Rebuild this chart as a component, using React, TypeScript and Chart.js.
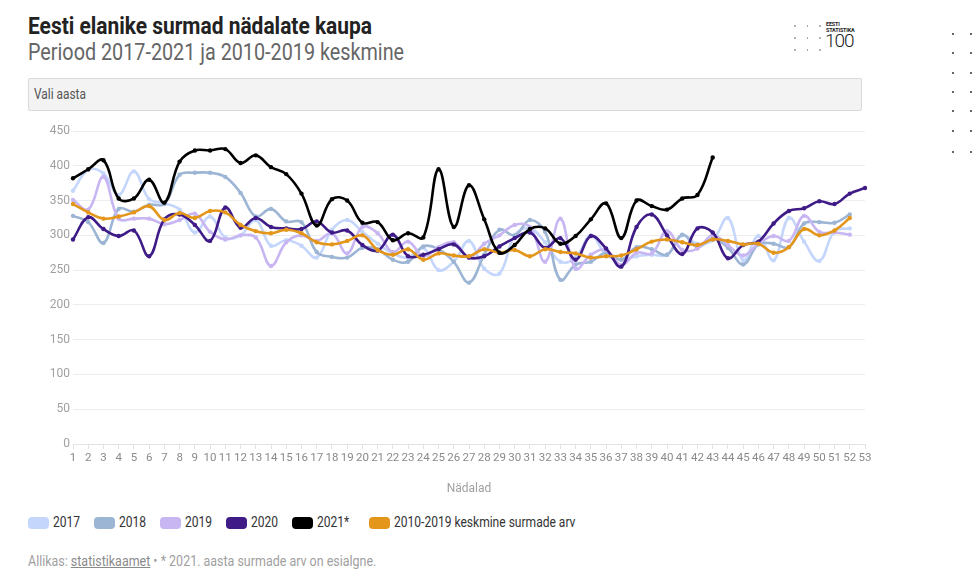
import React, { useEffect, useRef } from "react";
import { Chart, registerables } from "chart.js";

Chart.register(...registerables);

const weeks = [
  "1", "2", "3", "4", "5", "6", "7", "8", "9", "10",
  "11", "12", "13", "14", "15", "16", "17", "18", "19", "20",
  "21", "22", "23", "24", "25", "26", "27", "28", "29", "30",
  "31", "32", "33", "34", "35", "36", "37", "38", "39", "40",
  "41", "42", "43", "44", "45", "46", "47", "48", "49", "50",
  "51", "52", "53",
];

const yTicks = [0, 50, 100, 150, 200, 250, 300, 350, 400, 450];

const y2017 = [
  364, 394, 389, 358, 392, 352, 346, 337, 304, 327,
  297, 300, 322, 285, 293, 285, 268, 308, 322, 305,
  288, 274, 268, 282, 250, 262, 292, 252, 245, 300,
  310, 290, 262, 268, 300, 272, 265, 270, 272, 272,
  300, 288, 293, 325, 264, 299, 264, 325, 291, 263,
  306, 310,
];

const y2018 = [
  328, 319, 289, 338, 334, 344, 345, 387, 390, 390,
  384, 361, 327, 338, 320, 319, 276, 269, 268, 282,
  280, 265, 262, 284, 280, 262, 232, 272, 308, 300,
  322, 305, 236, 258, 262, 275, 265, 283, 280, 272,
  301, 283, 295, 282, 258, 287, 288, 283, 317, 319,
  318, 330,
];

const y2019 = [
  351, 337, 384, 324, 324, 324, 316, 322, 331, 305,
  294, 300, 297, 256, 290, 300, 292, 303, 274, 312,
  303, 276, 291, 270, 283, 290, 268, 288, 300, 315,
  312, 262, 324, 252, 272, 279, 257, 275, 274, 306,
  279, 281, 300, 286, 271, 288, 299, 292, 328, 305,
  304, 301,
];

const y2020 = [
  294, 326, 309, 299, 307, 270, 323, 330, 315, 292,
  340, 311, 325, 312, 310, 309, 320, 304, 307, 286,
  278, 301, 270, 272, 280, 287, 268, 270, 284, 296,
  304, 282, 296, 265, 299, 281, 255, 312, 330, 300,
  273, 310, 304, 267, 286, 291, 317, 335, 339, 349,
  345, 360, 368,
];

const y2021 = [
  382, 395, 408, 353, 353, 380, 347, 406, 422, 422,
  424, 404, 415, 398, 388, 360, 314, 352, 350, 318,
  319, 293, 303, 297, 395, 312, 372, 323, 275, 286,
  309, 310, 288, 299, 323, 346, 296, 350, 342, 337,
  353, 358, 412,
];

const yAvg = [
  345, 333, 324, 327, 333, 342, 322, 332, 325, 335,
  333, 315, 306, 303, 308, 303, 290, 287, 292, 300,
  279, 272, 280, 265, 274, 271, 270, 280, 275, 279,
  270, 280, 276, 274, 268, 270, 271, 280, 291, 294,
  290, 286, 294, 292, 287, 288, 275, 283, 309, 300,
  307, 325,
];

const seriesNames = ["2017", "2018", "2019", "2020", "2021*", "2010-2019 keskmine surmade arv"];
const seriesColors = ["#c4d6fb", "#9db5d4", "#c8b6f3", "#3f1b88", "#000000", "#e4961a"];

const FONT = "Roboto, 'Noto Sans', sans-serif";

function ChartCanvas() {
  const ref = useRef<HTMLCanvasElement | null>(null);
  useEffect(() => {
    if (!ref.current) return;
    const allData = [y2017, y2018, y2019, y2020, y2021, yAvg];
    const orders = [5, 4, 3, 2, 0, 1];
    const datasets = allData.map((d, i) => ({
      label: seriesNames[i],
      data: d,
      borderColor: seriesColors[i],
      backgroundColor: seriesColors[i],
      pointBackgroundColor: seriesColors[i],
      pointBorderColor: seriesColors[i],
      order: orders[i],
      borderWidth: 2.6,
      pointRadius: 2.2,
      pointBorderWidth: 0,
      tension: 0.4,
      fill: false,
    }));
    const chart = new Chart(ref.current, {
      type: "line",
      data: { labels: weeks, datasets },
      options: {
        animation: false,
        responsive: false,
        maintainAspectRatio: false,
        layout: { padding: { left: 0, right: 15, top: 11, bottom: 0 } },
        plugins: { legend: { display: false }, tooltip: { enabled: false } },
        scales: {
          x: {
            ticks: {
              autoSkip: false,
              maxRotation: 0,
              minRotation: 0,
              color: "#8a8a8a",
              padding: 2,
              font: { size: 11.5, family: FONT },
            },
            grid: { drawOnChartArea: false, drawTicks: true, tickLength: 5, color: "#e3e3e3" },
            border: { color: "#e3e3e3" },
            title: { display: true, text: "Nädalad", color: "#a0a0a0", font: { size: 12, family: FONT } },
            afterFit: (s: any) => {
              s.height = 56;
            },
          },
          y: {
            min: yTicks[0],
            max: yTicks[yTicks.length - 1],
            afterBuildTicks: (s: any) => {
              s.ticks = yTicks.map((v) => ({ value: v }));
            },
            ticks: { color: "#a0a0a0", padding: 3, font: { size: 12, family: FONT } },
            grid: { color: "#ededed", drawTicks: false },
            border: { display: false },
            afterFit: (s: any) => {
              s.width = 53;
            },
          },
        },
      },
    });
    return () => chart.destroy();
  }, []);
  return <canvas ref={ref} width={860} height={380} style={{ width: 860, height: 380, display: "block" }} />;
}

const legendPos = [28, 94, 160, 226, 292, 369];

export default function App() {
  const rightDotsY = [33, 52, 72, 91, 110, 130, 151];
  const logoDots: number[][] = [];
  [794, 806.5, 819].forEach((x) => [25, 37, 49].forEach((y) => logoDots.push([x, y])));
  return (
    <div
      style={{
        position: "absolute",
        left: 0,
        top: 0,
        width: 973,
        height: 576,
        background: "#fff",
        fontFamily: FONT,
        overflow: "hidden",
      }}
    >
      <div
        style={{
          position: "absolute",
          left: 28,
          top: 12,
          fontSize: 24,
          lineHeight: "28px",
          fontWeight: 700,
          color: "#222",
          whiteSpace: "nowrap",
          transform: "scaleX(0.872)",
          transformOrigin: "left top",
        }}
      >
        Eesti elanike surmad nädalate kaupa
      </div>
      <div
        style={{
          position: "absolute",
          left: 28,
          top: 38,
          fontSize: 24,
          lineHeight: "28px",
          fontWeight: 400,
          color: "#666",
          whiteSpace: "nowrap",
          transform: "scaleX(0.824)",
          transformOrigin: "left top",
        }}
      >
        Periood 2017-2021 ja 2010-2019 keskmine
      </div>

      {logoDots.map(([x, y], i) => (
        <div
          key={"ld" + i}
          style={{ position: "absolute", left: x, top: y, width: 1.5, height: 1.5, background: "#999", borderRadius: 1 }}
        />
      ))}
      <div style={{ position: "absolute", left: 826, top: 21, fontSize: 5.5, lineHeight: "6px", fontWeight: 700, color: "#222", letterSpacing: -0.2 }}>
        EESTI
      </div>
      <div style={{ position: "absolute", left: 826, top: 27, fontSize: 5.5, lineHeight: "6px", fontWeight: 700, color: "#222", letterSpacing: -0.2 }}>
        STATISTIKA
      </div>
      <div style={{ position: "absolute", left: 825, top: 31, fontSize: 19, lineHeight: "20px", fontWeight: 300, color: "#222", letterSpacing: -1 }}>
        100
      </div>
      {rightDotsY.map((y, i) => (
        <React.Fragment key={"rd" + i}>
          <div style={{ position: "absolute", left: 952, top: y, width: 1.5, height: 1.5, background: "#666" }} />
          <div style={{ position: "absolute", left: 970, top: y, width: 1.5, height: 1.5, background: "#666" }} />
        </React.Fragment>
      ))}

      <div
        style={{
          position: "absolute",
          left: 28,
          top: 78,
          width: 832,
          height: 31,
          background: "#f3f3f3",
          border: "1px solid #dadada",
          borderRadius: 2,
        }}
      />
      <div
        style={{
          position: "absolute",
          left: 34,
          top: 86,
          fontSize: 14,
          lineHeight: "16px",
          color: "#555",
          whiteSpace: "nowrap",
          transform: "scaleX(0.85)",
          transformOrigin: "left top",
        }}
      >
        Vali aasta
      </div>

      <div style={{ position: "absolute", left: 20, top: 120, width: 860, height: 380 }}>
        <ChartCanvas />
      </div>

      {seriesNames.map((name, i) => (
        <React.Fragment key={"lg" + i}>
          <div
            style={{
              position: "absolute",
              left: legendPos[i],
              top: 517,
              width: 21,
              height: 12,
              borderRadius: 4,
              background: seriesColors[i],
            }}
          />
          <div
            style={{
              position: "absolute",
              left: legendPos[i] + 25,
              top: 514,
              fontSize: 14,
              lineHeight: "17px",
              color: "#333",
              whiteSpace: "nowrap",
              transform: "scaleX(0.86)",
              transformOrigin: "left top",
            }}
          >
            {name}
          </div>
        </React.Fragment>
      ))}

      <div
        style={{
          position: "absolute",
          left: 28,
          top: 553,
          fontSize: 14,
          lineHeight: "17px",
          color: "#a0a0a0",
          whiteSpace: "nowrap",
          transform: "scaleX(0.89)",
          transformOrigin: "left top",
        }}
      >
        Allikas: <span style={{ textDecoration: "underline", color: "#8a8a8a" }}>statistikaamet</span> • * 2021. aasta
        surmade arv on esialgne.
      </div>
    </div>
  );
}
